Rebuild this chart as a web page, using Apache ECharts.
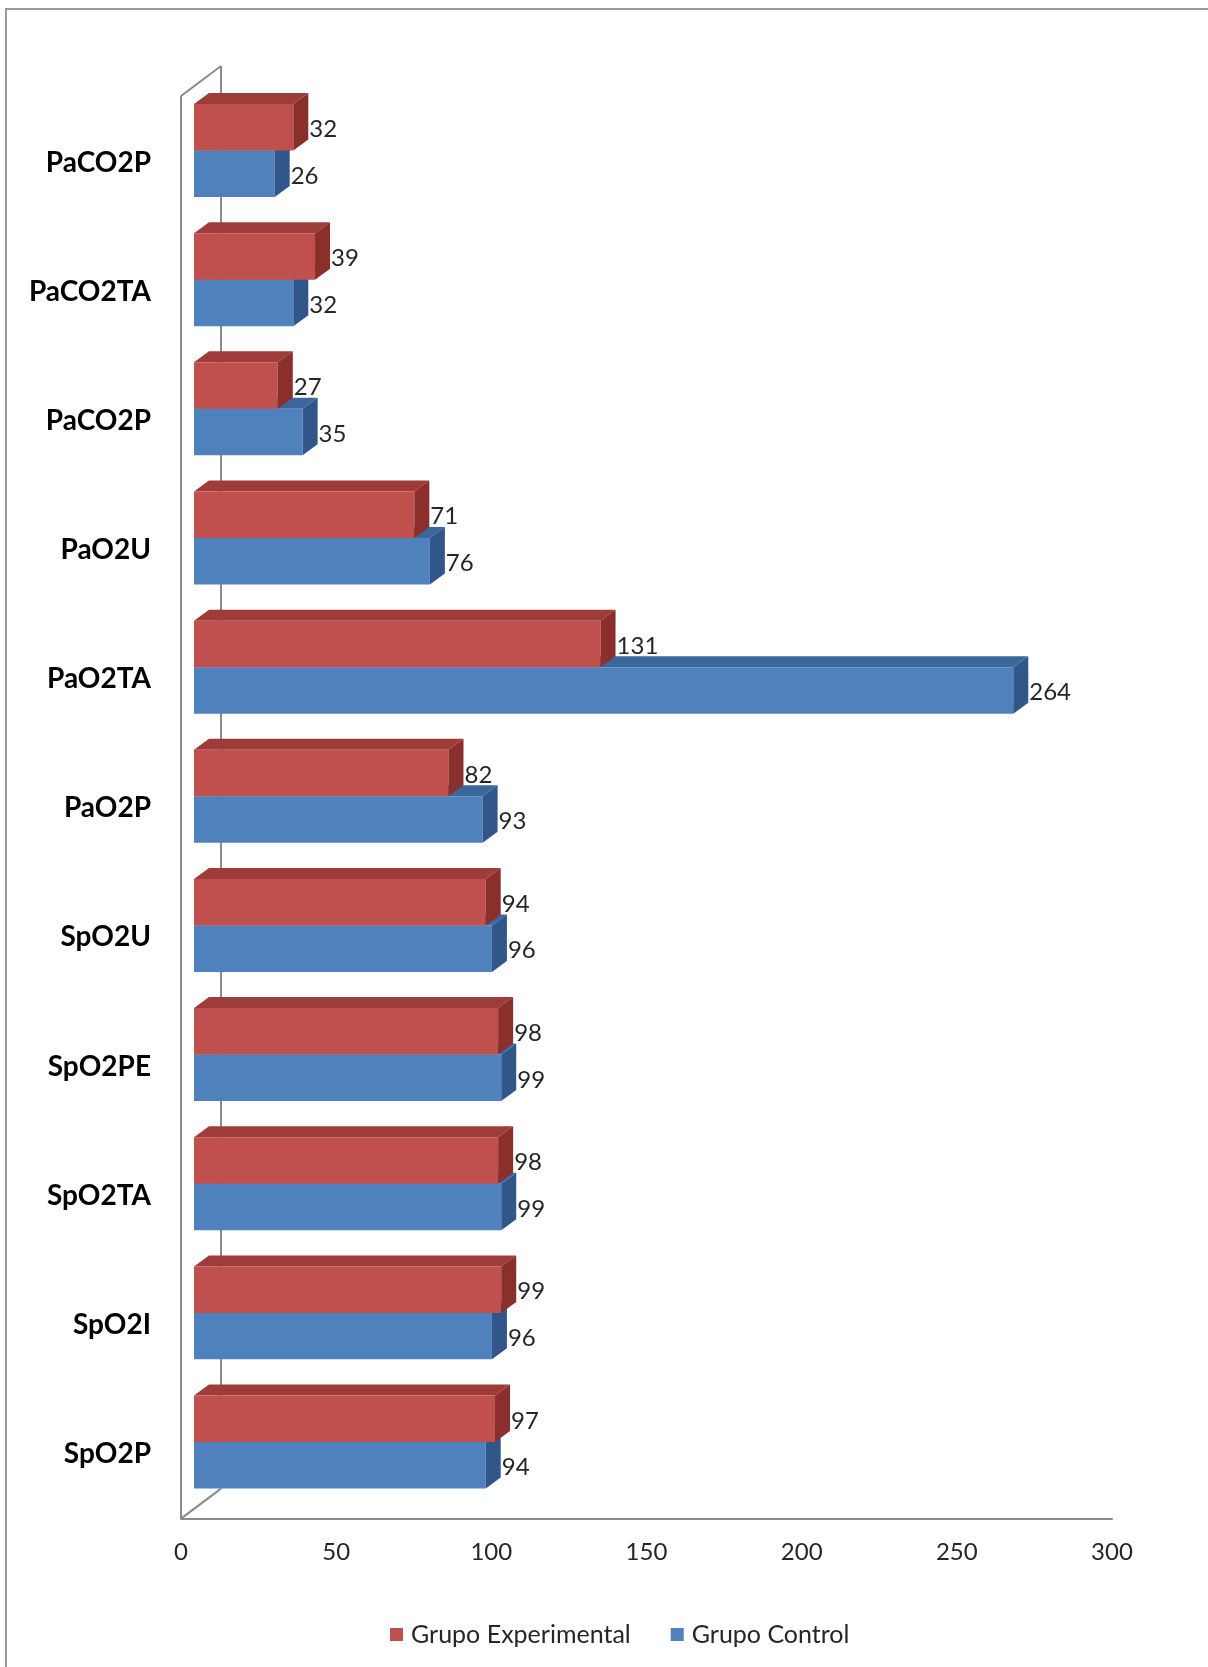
<!DOCTYPE html>
<html>
<head>
<meta charset="utf-8">
<title>Grupo Experimental vs Grupo Control</title>
<script src="https://cdn.jsdelivr.net/npm/echarts@6/dist/echarts.min.js"></script>
<style>
  html, body { margin: 0; padding: 0; background: #ffffff; }
  #chart { width: 1208px; height: 1667px; }
</style>
</head>
<body>
<div id="chart"></div>
<script>
// Categories, top to bottom
const categories = ['PaCO2P', 'PaCO2TA', 'PaCO2P', 'PaO2U', 'PaO2TA', 'PaO2P',
                    'SpO2U', 'SpO2PE', 'SpO2TA', 'SpO2I', 'SpO2P'];
// Values per group, same order as categories
const experimental = [32, 39, 27, 71, 131, 82, 94, 98, 98, 99, 97];
const control      = [26, 32, 35, 76, 264, 93, 96, 99, 99, 96, 94];
// Value axis ticks
const xMin = 0, xMax = 300, xStep = 50;

const FONT = 'Lato, "Open Sans", sans-serif';

// 3D look: bars sit a little back from the floor's front edge,
// and each bar has a shallow top/side face.
const PLANE_DX = 13, PLANE_DY = -12;   // bar plane offset from front edge
const FACE_DX = 15, FACE_DY = -11;     // bar depth
const WALL_DX = 40, WALL_DY = -30;     // wall/floor depth
const BAR_FRAC = 0.36;                 // bar thickness as share of the band

const palette = {
  exp: { front: '#C0504D', top: '#9E3C39', side: '#8B2F2D' },
  ctl: { front: '#4F81BD', top: '#3C679C', side: '#30568A' }
};

function makeBarRenderer(colors, upper) {
  return function (params, api) {
    const val = api.value(0);
    const idx = api.value(1);
    const p0 = api.coord([0, idx]);
    const p1 = api.coord([val, idx]);
    const band = api.size([0, 1])[1];
    const h = band * BAR_FRAC;
    const cy = p0[1] + PLANE_DY;
    const yTop = upper ? cy - h : cy;
    const yBot = upper ? cy : cy + h;
    const x0 = p0[0] + PLANE_DX;
    const x1 = p1[0] + PLANE_DX;
    return {
      type: 'group',
      children: [
        { type: 'polygon',
          shape: { points: [[x0, yTop], [x0 + FACE_DX, yTop + FACE_DY],
                            [x1 + FACE_DX, yTop + FACE_DY], [x1, yTop]] },
          style: { fill: colors.top } },
        { type: 'rect',
          shape: { x: x0, y: yTop, width: x1 - x0, height: yBot - yTop },
          style: { fill: colors.front } },
        { type: 'polygon',
          shape: { points: [[x1, yTop], [x1 + FACE_DX, yTop + FACE_DY],
                            [x1 + FACE_DX, yBot + FACE_DY], [x1, yBot]] },
          style: { fill: colors.side } },
        { type: 'text',
          style: { x: x1 + FACE_DX + 1, y: (yTop + yBot) / 2 + 2,
                   text: String(val), fill: '#262626',
                   font: '24px ' + FONT, align: 'left', verticalAlign: 'middle' } }
      ]
    };
  };
}

// Left wall edges and floor depth line, taken from the plot rectangle
function renderWall(params, api) {
  const cs = params.coordSys;
  const L = cs.x, T = cs.y - 2, B = cs.y + cs.height;
  const stroke = { stroke: '#8A8A8A', lineWidth: 2, fill: null };
  const seg = (a, b) => ({ type: 'line',
    shape: { x1: a[0], y1: a[1], x2: b[0], y2: b[1] }, style: stroke });
  return {
    type: 'group',
    children: [
      seg([L, T], [L, B]),
      seg([L, T], [L + WALL_DX, T + WALL_DY]),
      seg([L + WALL_DX, T + WALL_DY], [L + WALL_DX, B + WALL_DY]),
      seg([L, B], [L + WALL_DX, B + WALL_DY])
    ]
  };
}

const chart = echarts.init(document.getElementById('chart'), null, { renderer: 'canvas' });

chart.setOption({
  animation: false,
  backgroundColor: '#ffffff',
  graphic: [
    { type: 'polyline', silent: true,
      shape: { points: [[6, 1667], [6, 9], [1208, 9]] },
      style: { stroke: '#9A9A9A', lineWidth: 2, fill: null } }
  ],
  grid: { left: 181, right: 96, top: 98, bottom: 148.4, containLabel: false },
  legend: {
    data: ['Grupo Experimental', 'Grupo Control'],
    left: 390, top: 1622, padding: 0,
    icon: 'rect', itemWidth: 13, itemHeight: 13, itemGap: 40,
    textStyle: { fontFamily: FONT, fontSize: 25, color: '#262626', padding: [0, 0, 0, 3] }
  },
  xAxis: {
    type: 'value', min: xMin, max: xMax, interval: xStep,
    axisLine: { show: true, lineStyle: { color: '#8A8A8A', width: 2 } },
    axisTick: { show: false },
    splitLine: { show: false },
    axisLabel: { fontFamily: FONT, fontSize: 24, color: '#262626', margin: 22, lineHeight: 24 }
  },
  yAxis: {
    type: 'category', inverse: true, data: categories,
    axisLine: { show: false },
    axisTick: { show: false },
    splitLine: { show: false },
    axisLabel: { fontFamily: FONT, fontSize: 28, fontWeight: 'bold', color: '#000000', margin: 30 }
  },
  series: [
    { type: 'custom', name: 'wall', renderItem: renderWall, silent: true,
      data: [[0, 0]], encode: { x: 0, y: 1 }, z: 1 },
    { type: 'custom', name: 'Grupo Control',
      itemStyle: { color: palette.ctl.front },
      renderItem: makeBarRenderer(palette.ctl, false),
      data: control.map((v, i) => [v, i]), encode: { x: 0, y: 1 }, z: 2 },
    { type: 'custom', name: 'Grupo Experimental',
      itemStyle: { color: palette.exp.front },
      renderItem: makeBarRenderer(palette.exp, true),
      data: experimental.map((v, i) => [v, i]), encode: { x: 0, y: 1 }, z: 3 }
  ]
});
</script>
</body>
</html>
